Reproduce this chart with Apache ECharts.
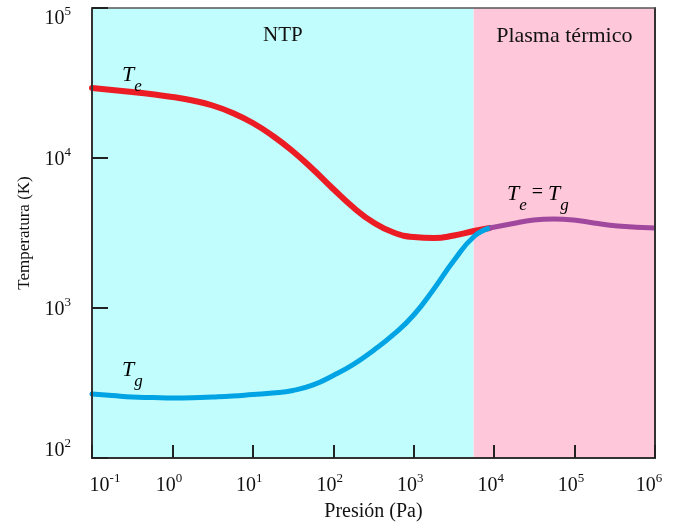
<!DOCTYPE html>
<html>
<head>
<meta charset="utf-8">
<script src="https://cdn.jsdelivr.net/npm/echarts@6/dist/echarts.min.js"></script>
<style>html,body{margin:0;padding:0;background:#fff;}#chart{width:675px;height:527px;}</style>
</head>
<body>
<div id="chart"></div>
<script>
// ---- data (Pa, K) ----
const pressureTe = [0.1, 0.178, 0.316, 0.562, 1, 1.78, 3.16, 5.62, 10, 17.8, 31.6, 56.2, 100, 178, 316, 562, 1000, 1780, 3160, 5620, 8800];
const tempTe     = [29290, 28410, 27540, 26590, 25510, 24170, 22390, 19950, 17110, 14020, 11050, 8380, 6215, 4677, 3715, 3186, 2973, 2929, 3044, 3261, 3415];
const pressureTg = [0.1, 0.178, 0.316, 0.562, 1, 1.78, 3.16, 5.62, 10, 17.8, 31.6, 56.2, 100, 178, 316, 562, 1000, 1780, 3160, 5620, 8800];
const tempTg     = [267, 261, 255, 253, 251, 252, 255, 259, 265, 271, 282, 307, 355, 421, 521, 666, 898, 1339, 2073, 2997, 3415];
const pressureEq = [8800, 16000, 31000, 55000, 97700, 173000, 345000, 1000000];
const tempEq     = [3415, 3630, 3860, 3920, 3860, 3690, 3520, 3415];
const regionNames = ['NTP', 'Plasma térmico'];
const regionBounds = [0.1, 5560, 1000000];
const xRange = [0.1, 1000000];
const yRange = [100, 100000];
const xTitle = 'Presión (Pa)';
const yTitle = 'Temperatura (K)';

const SERIF = '"Liberation Serif", "DejaVu Serif", serif';
const pairs = (xs, ys) => xs.map((x, i) => [x, ys[i]]);
const exp10 = v => Math.round(Math.log10(v));

const chart = echarts.init(document.getElementById('chart'), null, {renderer: 'canvas'});

const tickRich = {
  b: {fontSize: 20, fontFamily: SERIF, color: '#111', verticalAlign: 'bottom', lineHeight: 24},
  s: {fontSize: 13, fontFamily: SERIF, color: '#111', verticalAlign: 'top', lineHeight: 14},
  sx: {fontSize: 13, fontFamily: SERIF, color: '#111', verticalAlign: 'top', lineHeight: 14, padding: [0, 7, 0, 0]},
  bl: {fontSize: 20, fontFamily: SERIF, color: '#111', verticalAlign: 'bottom', lineHeight: 24, padding: [0, 0, 0, 26]},
  sr: {fontSize: 13, fontFamily: SERIF, color: '#111', verticalAlign: 'top', lineHeight: 14, padding: [0, 12, 0, 0]}
};

const subRich = {
  T: {fontSize: 22, fontStyle: 'italic', fontFamily: SERIF, color: '#111', verticalAlign: 'top', lineHeight: 24},
  s: {fontSize: 17, fontStyle: 'italic', fontFamily: SERIF, color: '#111', verticalAlign: 'bottom', lineHeight: 31},
  eq: {fontSize: 20, fontFamily: SERIF, color: '#111', verticalAlign: 'top', lineHeight: 27}
};

const areaColors = ['#C2FDFD', '#FFC8DA'];
const areaFontSizes = [21, 22];

const option = {
  animation: false,
  backgroundColor: '#fff',
  grid: {left: 92, right: 20, top: 8, bottom: 69, containLabel: false, outerBoundsMode: 'none'},
  xAxis: [{
    type: 'log', logBase: 10, min: xRange[0], max: xRange[1], interval: 1,
    name: xTitle, nameLocation: 'middle', nameGap: 44,
    nameTextStyle: {fontFamily: SERIF, fontSize: 20, color: '#111'},
    axisLine: {show: true, lineStyle: {color: '#333', width: 2}},
    axisTick: {show: true, inside: true, length: 13, lineStyle: {color: '#222', width: 2}},
    axisLabel: {
      margin: 14,
      formatter: v => {
        const e = exp10(v);
        if (e === -1) return '{bl|10}{s|' + e + '}';
        if (e === 6) return '{b|10}{sr|' + e + '}';
        return '{b|10}{sx|' + e + '}';
      },
      rich: tickRich
    },
    splitLine: {show: false},
    z: 10
  }, {
    type: 'log', logBase: 10, min: xRange[0], max: xRange[1], position: 'top',
    axisLine: {show: true, lineStyle: {color: '#555', width: 1.5}},
    axisTick: {show: false}, axisLabel: {show: false}, splitLine: {show: false},
    z: 10
  }],
  yAxis: [{
    type: 'log', logBase: 10, min: yRange[0], max: yRange[1], interval: 1,
    name: yTitle, nameLocation: 'middle', nameGap: 59, nameRotate: 90,
    nameTextStyle: {fontFamily: SERIF, fontSize: 17, color: '#111'},
    axisLine: {show: true, lineStyle: {color: '#333', width: 2}},
    axisTick: {show: true, inside: true, length: 16, lineStyle: {color: '#222', width: 2}},
    axisLabel: {
      margin: 21, lineHeight: 18,
      formatter: v => {
        const e = exp10(v);
        if (e === 5) return '\n{b|10}{s|' + e + '}';
        if (e === 2) return '{b|10}{s|' + e + '}\n';
        return '{b|10}{s|' + e + '}';
      },
      rich: tickRich
    },
    splitLine: {show: false},
    z: 10
  }, {
    type: 'log', logBase: 10, min: yRange[0], max: yRange[1], position: 'right',
    axisLine: {show: true, lineStyle: {color: '#333', width: 2}},
    axisTick: {show: false}, axisLabel: {show: false}, splitLine: {show: false},
    z: 10
  }],
  series: [
    {
      name: 'regions', type: 'line', data: [], z: 1, silent: true,
      markArea: {
        silent: true,
        label: {show: true, position: 'insideTop', distance: 17, fontFamily: SERIF, fontSize: 21, color: '#111'},
        data: regionNames.map((n, i) => [
          {name: n, xAxis: regionBounds[i], yAxis: yRange[0], itemStyle: {color: areaColors[i]},
           label: {fontSize: areaFontSizes[i]}},
          {xAxis: regionBounds[i + 1], yAxis: yRange[1]}
        ])
      }
    },
    {
      name: 'Te', type: 'line', data: pairs(pressureTe, tempTe), smooth: 0.5, showSymbol: false, z: 3,
      lineStyle: {color: '#EC1C24', width: 6, cap: 'round'}
    },
    {
      name: 'Tg', type: 'line', data: pairs(pressureTg, tempTg), smooth: 0.5, showSymbol: false, z: 4,
      lineStyle: {color: '#00A3E3', width: 5, cap: 'round'}
    },
    {
      name: 'Te=Tg', type: 'line', data: pairs(pressureEq, tempEq), smooth: 0.5, showSymbol: false, z: 5,
      lineStyle: {color: '#A0489E', width: 5}
    }
  ],
  graphic: [
    {type: 'text', left: 122, top: 64, z: 20, style: {text: '{T|T}{s|e}', rich: subRich}},
    {type: 'text', left: 122, top: 359, z: 20, style: {text: '{T|T}{s|g}', rich: subRich}},
    {type: 'text', left: 507, top: 183, z: 20, style: {text: '{T|T}{s|e}{eq| = }{T|T}{s|g}', rich: subRich}}
  ]
};
chart.setOption(option);
</script>
</body>
</html>
